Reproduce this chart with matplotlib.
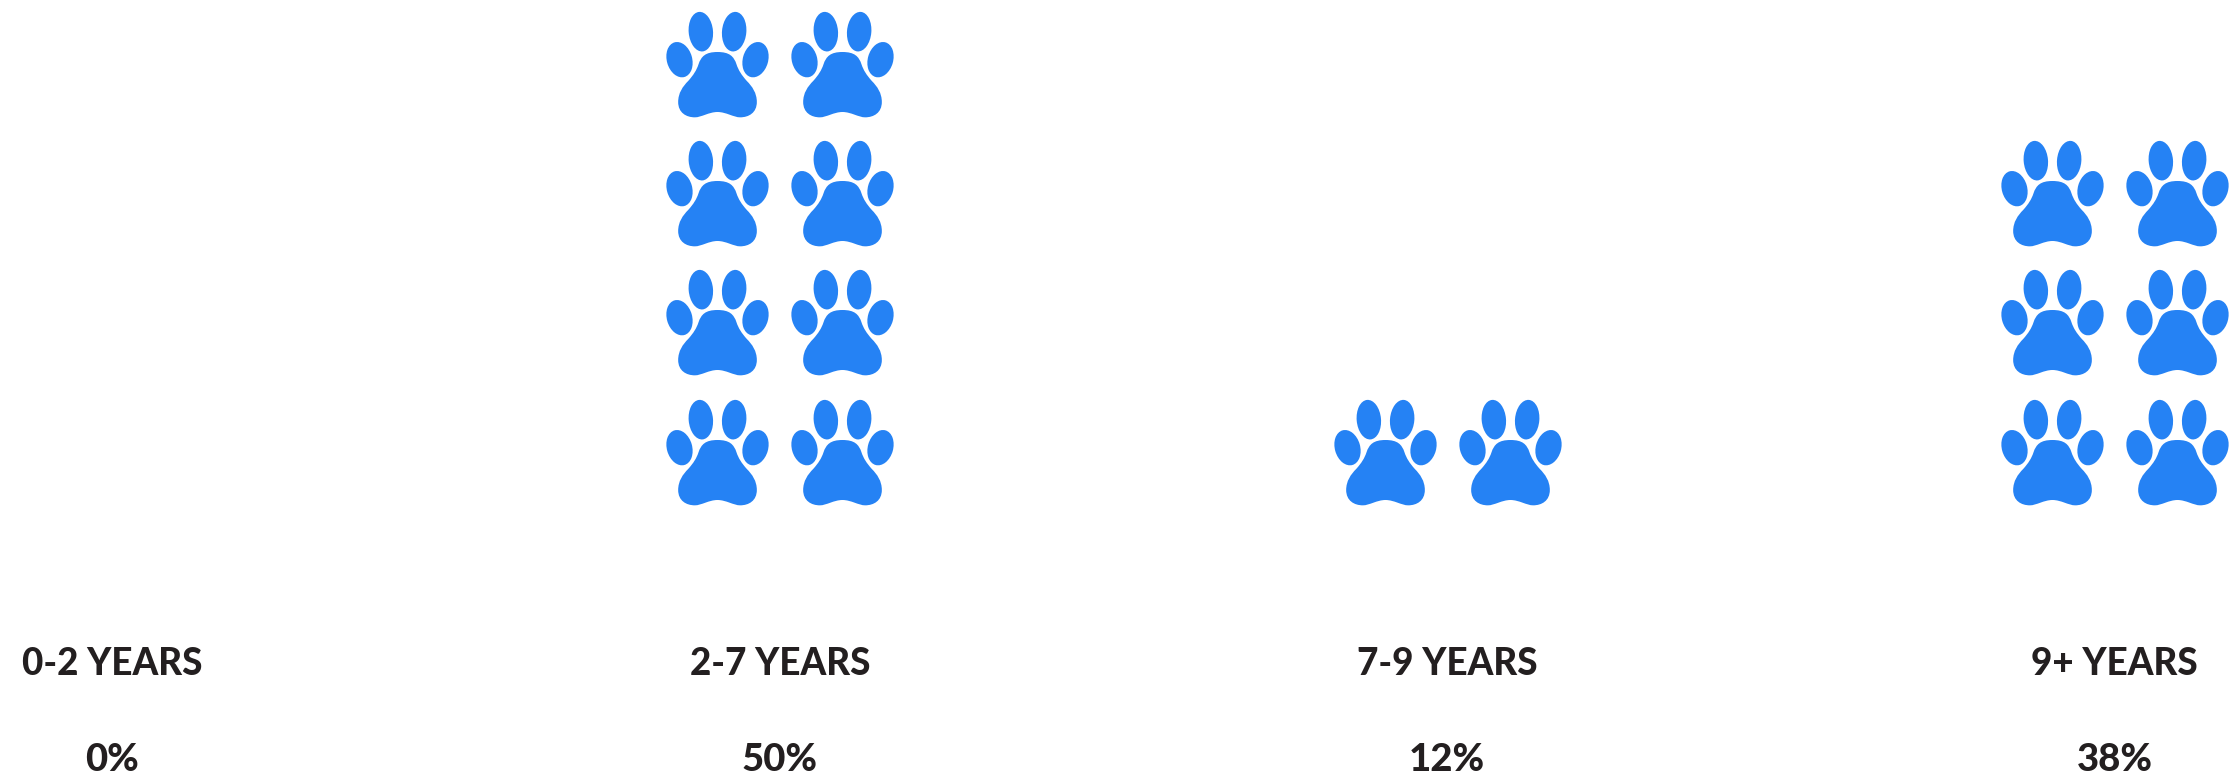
import numpy as np
import matplotlib
matplotlib.use("Agg")
import matplotlib.pyplot as plt
from matplotlib.path import Path
from matplotlib.transforms import Affine2D

categories = ["0-2 YEARS", "2-7 YEARS", "7-9 YEARS", "9+ YEARS"]
percent_labels = ["0%", "50%", "12%", "38%"]
paw_counts = [0, 8, 2, 6]

BLUE = "#2582F4"
INK = "#231F20"
W, H, DPI = 2231, 780, 100
X0, DX = 112.5, 667.3       # pixel of category 0, pixels per category
BASE, ROW = 516.2, 129.3    # pixel of stack baseline, pixels per row
COL = 125.0                 # pixels between the two paw columns


def ellipse(cx, cy, w, h, angle):
    return Path.unit_circle().transformed(
        Affine2D().scale(w / 2, h / 2).rotate_deg(angle).translate(cx, cy))


def paw_path():
    right = [(0, 153), (36, 153), (49, 166), (57, 190),
             (63, 208), (72, 222), (88, 240),
             (104, 256), (118, 276), (118, 303),
             (118, 335), (94, 349), (68, 349),
             (48, 349), (26, 333), (0, 333)]
    left = [(-x, y) for x, y in right[-2::-1]]
    verts = right + left
    codes = [Path.MOVETO] + [Path.CURVE4] * (len(verts) - 1)
    pad = Path(np.array(verts, float), codes)
    toes = [ellipse(-50, 92, 73, 119, -5), ellipse(50, 92, 73, 119, 5),
            ellipse(-114, 176, 76, 108, -16), ellipse(114, 176, 76, 108, 16)]
    shape = Path.make_compound_path(pad, *toes)
    # drawn in 3x zoom units with y down: turn into pixels, y up, centred
    return shape.transformed(Affine2D().translate(0, -190.5).scale(1 / 3, -1 / 3))


paw = paw_path()
half = np.max(np.abs(paw.vertices))
size_pt = 2 * half * 72 / DPI

fig = plt.figure(figsize=(W / DPI, H / DPI), dpi=DPI, facecolor="white")
ax = fig.add_axes([0, 0, 1, 1])
ax.set_xlim(-X0 / DX, (W - X0) / DX)
ax.set_ylim((BASE - H) / ROW, BASE / ROW)
ax.axis("off")

step = COL / DX
for i, n in enumerate(paw_counts):
    idx = np.arange(n)
    ax.scatter(i + ((idx % 2) - 0.5) * step, idx // 2 + 0.5, marker=paw,
               s=size_pt ** 2, c=BLUE, linewidths=0)

font = dict(family="Lato", weight="black", color=INK, ha="center", va="baseline")
label_y = (BASE - 675) / ROW
pct_y = (BASE - 771) / ROW
for i, (c, p) in enumerate(zip(categories, percent_labels)):
    ax.text(i, label_y, c, fontsize=26.5, **font)
    ax.text(i, pct_y, p, fontsize=27.5, **font)

fig.savefig("out.png", dpi=DPI, facecolor="white")
